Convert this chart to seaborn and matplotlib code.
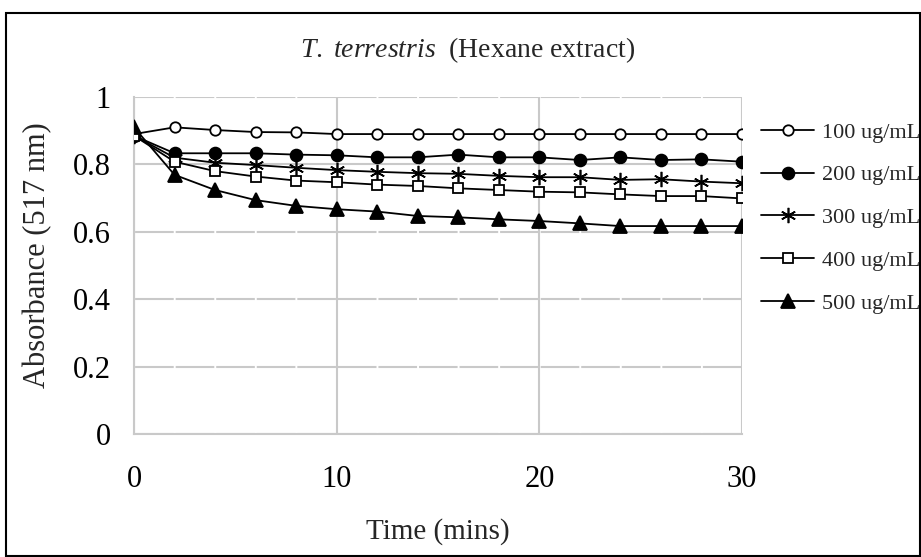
import numpy as np
import pandas as pd
import matplotlib
matplotlib.use("Agg")
import matplotlib.pyplot as plt
import matplotlib.patches as patches
import seaborn as sns

# ── Data ────────────────────────────────────────────────────
time_min = [0, 2, 4, 6, 8, 10, 12, 14, 16, 18, 20, 22, 24, 26, 28, 30]
conc_100 = [0.890, 0.910, 0.902, 0.896, 0.895, 0.890, 0.890, 0.890,
            0.890, 0.890, 0.890, 0.890, 0.890, 0.890, 0.890, 0.890]
conc_200 = [0.885, 0.833, 0.833, 0.833, 0.829, 0.827, 0.821, 0.821,
            0.829, 0.821, 0.821, 0.813, 0.821, 0.813, 0.815, 0.808]
conc_300 = [0.885, 0.820, 0.805, 0.798, 0.790, 0.783, 0.778, 0.774,
            0.772, 0.766, 0.762, 0.762, 0.754, 0.756, 0.749, 0.744]
conc_400 = [0.885, 0.808, 0.780, 0.764, 0.752, 0.747, 0.740, 0.736,
            0.729, 0.724, 0.719, 0.717, 0.711, 0.706, 0.706, 0.699]
conc_500 = [0.910, 0.769, 0.724, 0.694, 0.677, 0.667, 0.660, 0.647,
            0.643, 0.637, 0.632, 0.625, 0.617, 0.617, 0.617, 0.617]

labels = ["100 ug/mL", "200 ug/mL", "300 ug/mL", "400 ug/mL", "500 ug/mL"]
y_ticks = [0, 0.2, 0.4, 0.6, 0.8, 1]
y_tick_labels = ["0", "0.2", "0.4", "0.6", "0.8", "1"]
x_ticks = [0, 10, 20, 30]

# ── Style ────────────────────────────────────────────────────
sns.set_style("white")
plt.rcParams["font.family"] = ["Liberation Serif", "DejaVu Serif"]
plt.rcParams["mathtext.fontset"] = "custom"
plt.rcParams["mathtext.rm"] = "Liberation Serif"
plt.rcParams["mathtext.it"] = "Liberation Serif:italic"
plt.rcParams["lines.scale_dashes"] = False

GRID = "#c9c9c9"

fig = plt.figure(figsize=(9.21, 5.57), dpi=100)
ax = fig.add_axes([134 / 921, 123 / 557, 608 / 921, 337 / 557])

series = [conc_100, conc_200, conc_300, conc_400, conc_500]
styles = [
    dict(marker="o", markersize=7.5, markerfacecolor="white"),
    dict(marker="o", markersize=8.5, markerfacecolor="black"),
    dict(marker=(6, 2, 0), markersize=11, markeredgewidth=1.2),
    dict(marker="s", markersize=7, markerfacecolor="white"),
    dict(marker="^", markersize=9.5, markerfacecolor="black"),
]

for vals, lab, st in zip(series, labels, styles):
    sns.lineplot(x=time_min, y=vals, ax=ax, color="black", linewidth=1.3,
                 markeredgecolor="black", markeredgewidth=st.pop("markeredgewidth", 1.3),
                 label=lab, zorder=3, **st)

ax.set_xlim(0, 30)
ax.set_ylim(0, 1)
ax.set_xticks(x_ticks)
ax.set_yticks(y_ticks)
ax.set_yticklabels(y_tick_labels)

# grid: solid verticals, lightly broken horizontals (Excel look)
ax.grid(axis="x", color=GRID, linewidth=1.5)
ax.grid(axis="y", color=GRID, linewidth=1.5, linestyle=(28.4, (27.8, 1.4)))
ax.set_axisbelow(True)

for side in ["top", "right"]:
    ax.spines[side].set_visible(False)
for side in ["left", "bottom"]:
    ax.spines[side].set_color(GRID)
    ax.spines[side].set_linewidth(1.5)

ax.tick_params(axis="both", colors=GRID, length=6.5, width=1.5, labelsize=22,
               labelcolor="black")
ax.tick_params(axis="x", pad=16)
ax.tick_params(axis="y", pad=10)

ax.set_xlabel("Time (mins)", fontsize=21)
ax.set_ylabel("Absorbance (517 nm)", fontsize=22)
ax.xaxis.set_label_coords(0.5, -0.25)
ax.yaxis.set_label_coords(-0.135, 0.53)

fig.text(468 / 921, 1 - 50 / 557,
         r"$\mathit{T.\ terrestris}$  (Hexane extract)",
         ha="center", va="center", fontsize=20)

ax.legend(loc="upper left", bbox_to_anchor=(761 / 921, 1 - 122 / 557),
          bbox_transform=fig.transFigure, frameon=False, fontsize=16,
          handlelength=2.4, handletextpad=0.36, labelspacing=1.0,
          borderpad=0, borderaxespad=0)

# outer chart border
fig.patches.append(patches.Rectangle((6 / 921, 1 / 557), 914 / 921, 543 / 557,
                                     transform=fig.transFigure, fill=False,
                                     edgecolor="black", linewidth=1.5))

plt.savefig("out.png", dpi=100)
